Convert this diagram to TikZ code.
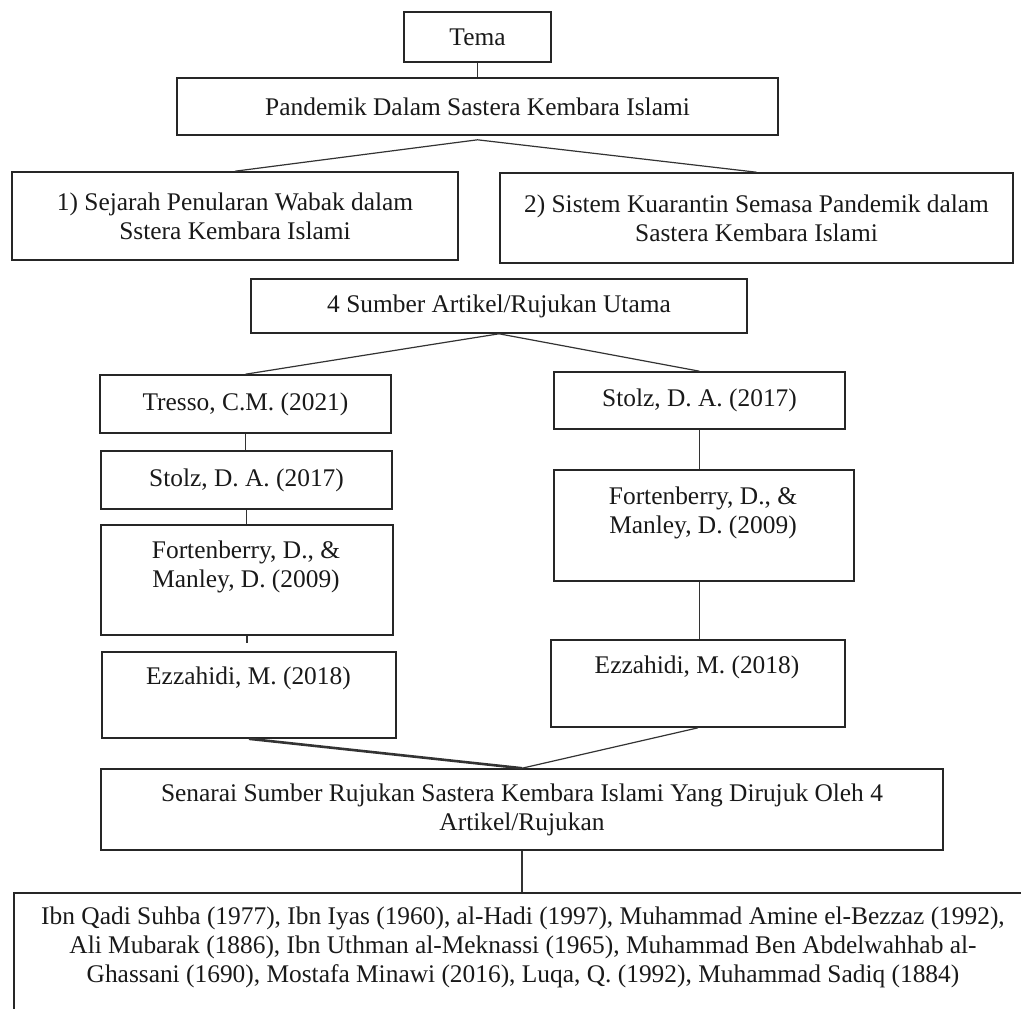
\documentclass[tikz,border=0pt]{standalone}
\usepackage{fontspec}
\setmainfont{Liberation Serif}
\usetikzlibrary{calc}
\newcommand\diagfont{\fontsize{12.7}{14.5}\selectfont}
\begin{document}
\begin{tikzpicture}[x=0.5pt,y=-0.5pt,
  box/.style={draw=black!85, line width=0.8pt, inner sep=0pt, align=center, font=\diagfont, text=black!90},
  sz/.style 2 args={minimum width=#1*0.5pt, minimum height=#2*0.5pt},
  txt/.style={align=center, inner sep=0pt, font=\diagfont, text=black!90},
  link/.style={draw=black!80, line width=0.6pt}]
\useasboundingbox (0,0) rectangle (1021,1008);
\clip (0,0) rectangle (1021,1008);
% boxes
\node[box, sz={147}{50}] (tema) at (477.5,37) {Tema};
\node[box, sz={601}{57}] (pan) at (477.5,106.5) {Pandemik Dalam Sastera Kembara Islami};
\node[box, sz={446}{88}] (b1) at (235,216) {1) Sejarah Penularan Wabak dalam\\ Sstera Kembara Islami};
\node[box, sz={513}{90}] (b2) at (756.5,218) {2) Sistem Kuarantin Semasa Pandemik dalam\\ Sastera Kembara Islami};
\node[box, sz={496}{54}] (sum) at (499,306) {4 Sumber Artikel/Rujukan Utama};
\node[box, sz={291}{58}] (tre) at (245.5,404) {Tresso, C.M. (2021)};
\node[box, sz={291}{57}] (sr) at (699.5,400.5) {Stolz, D. A. (2017)};
\node[box, sz={291}{58}] (sl) at (246.5,480) {Stolz, D. A. (2017)};
\node[box, sz={292}{110}] (fl) at (247,580) {};
\node[txt] (flt) at (246,567) {Fortenberry, D., \&\\ Manley, D. (2009)};
\node[box, sz={300}{111}] (fr) at (704,525.5) {};
\node[txt] (frt) at (703,512.5) {Fortenberry, D., \&\\ Manley, D. (2009)};
\node[box, sz={294}{86}] (el) at (249,695) {};
\node[txt] (elt) at (248.5,678) {Ezzahidi, M. (2018)};
\node[box, sz={294}{87}] (er) at (698,683.5) {};
\node[txt] (ert) at (697,667) {Ezzahidi, M. (2018)};
\node[box, sz={842}{81}] (sen) at (522,809.5) {Senarai Sumber Rujukan Sastera Kembara Islami Yang Dirujuk Oleh 4\\ Artikel/Rujukan};
\node[box, sz={1018}{147}] (bot) at (523,966.5) {};
\node[txt] (bott) at (523,947.5) {Ibn Qadi Suhba (1977), Ibn Iyas (1960), al-Hadi (1997), Muhammad Amine el-Bezzaz (1992),\\ Ali Mubarak (1886), Ibn Uthman al-Meknassi (1965), Muhammad Ben Abdelwahhab al-\\ Ghassani (1690), Mostafa Minawi (2016), Luqa, Q. (1992), Muhammad Sadiq (1884)};
% connectors
\draw[link] (tema) -- (pan);
\coordinate (panap) at ([yshift=-2pt]pan.south);
\draw[link] (b1.north) -- (panap) -- (b2.north);
\draw[link] (tre.north) -- (sum.south) -- (sr.north);
\draw[link] (tre.south) -- (tre.south |- sl.north);
\draw[link] (sl.south) -- (sl.south |- fl.north);
\draw[link] (fl.south) -- ($(fl.south)!0.47!(fl.south |- el.north)$);
\draw[link] (sr.south) -- (sr.south |- fr.north);
\draw[link] (sr.south |- fr.south) -- (sr.south |- er.north);
\draw[link, line width=1.3pt] (el.south) -- (sen.north);
\draw[link] (er.south) -- (sen.north);
\draw[link] (sen.south) -- (sen.south |- bot.north);
\end{tikzpicture}
\end{document}
